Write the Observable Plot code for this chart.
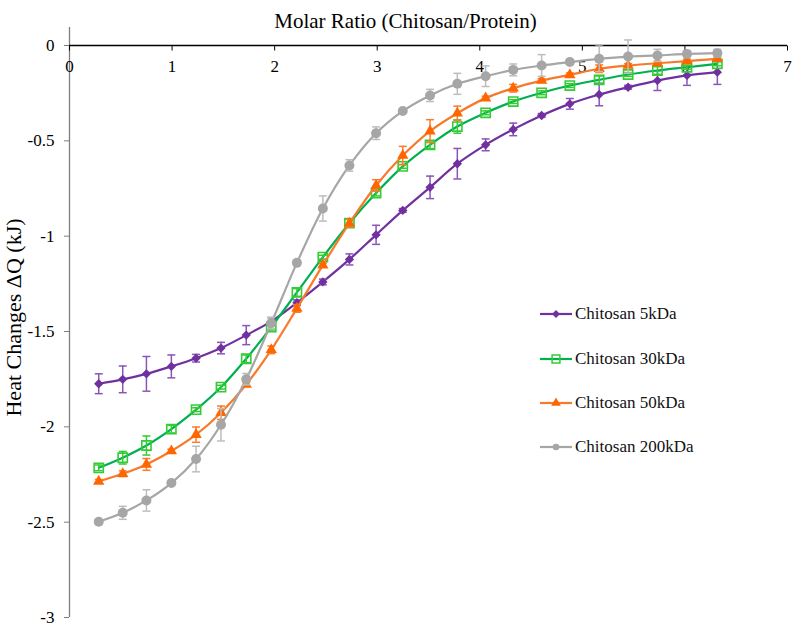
<!DOCTYPE html>
<html>
<head>
<meta charset="utf-8">
<script src="https://cdn.jsdelivr.net/npm/d3@7"></script>
<script src="https://cdn.jsdelivr.net/npm/@observablehq/plot@0.6"></script>
<style>
  body { margin: 0; background: #fff; }
  #wrap { position: relative; width: 795px; height: 627px; font-family: "Liberation Serif", "Times New Roman", serif; }
  #legend { position: absolute; left: 540px; top: 292px; }
  .row { display: flex; align-items: center; height: 44.4px; font-size: 17px; color: #111; }
  .row svg { display: block; margin-right: 3px; }
</style>
</head>
<body>
<div id="wrap"><div id="legend"></div></div>
<script>
// ---- data ----
const molarRatio = [0.285, 0.519, 0.750, 0.993, 1.234, 1.477, 1.723, 1.967, 2.217, 2.470, 2.729, 2.989,
                    3.249, 3.515, 3.781, 4.057, 4.326, 4.603, 4.878, 5.164, 5.446, 5.732, 6.020, 6.316];

const seriesNames = ["Chitosan 5kDa", "Chitosan 30kDa", "Chitosan 50kDa", "Chitosan 200kDa"];

const heat5 = [-1.774, -1.751, -1.722, -1.683, -1.640, -1.587, -1.519, -1.447, -1.349, -1.240, -1.122, -0.993,
               -0.865, -0.744, -0.620, -0.521, -0.440, -0.367, -0.306, -0.257, -0.219, -0.184, -0.157, -0.140];
const err5  = [0.052, 0.070, 0.091, 0.060, 0.020, 0.030, 0.050, 0.020, 0.015, 0.015, 0.029, 0.050,
               0.010, 0.059, 0.080, 0.031, 0.033, 0.010, 0.028, 0.059, 0.010, 0.052, 0.052, 0.064];

const heat30 = [-2.215, -2.162, -2.098, -2.012, -1.910, -1.792, -1.643, -1.477, -1.295, -1.110, -0.932, -0.774,
                -0.634, -0.521, -0.425, -0.353, -0.294, -0.248, -0.210, -0.180, -0.152, -0.131, -0.114, -0.096];
const err30  = [0.015, 0.033, 0.050, 0.020, 0.010, 0.010, 0.020, 0.015, 0.020, 0.010, 0.020, 0.015,
                0.010, 0.020, 0.035, 0.010, 0.010, 0.010, 0.010, 0.020, 0.010, 0.020, 0.010, 0.010];

const heat50 = [-2.286, -2.246, -2.197, -2.127, -2.041, -1.926, -1.778, -1.596, -1.379, -1.152, -0.932, -0.734,
                -0.577, -0.449, -0.355, -0.276, -0.224, -0.184, -0.154, -0.122, -0.105, -0.093, -0.082, -0.070];
const err50  = [0.010, 0.015, 0.031, 0.010, 0.040, 0.035, 0.010, 0.020, 0.020, 0.010, 0.020, 0.030,
                0.048, 0.060, 0.037, 0.010, 0.020, 0.010, 0.010, 0.020, 0.010, 0.010, 0.010, 0.010];

const heat200 = [-2.498, -2.451, -2.386, -2.295, -2.169, -1.989, -1.750, -1.456, -1.140, -0.855, -0.629, -0.460,
                 -0.344, -0.262, -0.201, -0.161, -0.128, -0.105, -0.087, -0.070, -0.058, -0.052, -0.044, -0.040];
const err200  = [0.005, 0.034, 0.056, 0.005, 0.067, 0.085, 0.030, 0.030, 0.005, 0.066, 0.030, 0.033,
                 0.005, 0.032, 0.055, 0.054, 0.031, 0.057, 0.010, 0.067, 0.087, 0.032, 0.015, 0.020];

const xTicks = [0, 1, 2, 3, 4, 5, 6, 7];
const yTicks = [0, -0.5, -1, -1.5, -2, -2.5, -3];
const titleText = "Molar Ratio (Chitosan/Protein)";
const yLabelText = "Heat Changes ΔQ (kJ)";

// ---- styles ----
const serif = "'Liberation Serif', 'Times New Roman', serif";
const styles = [
  {line: "#7030A0", mark: "#7030A0", err: "#8A55B8", symbol: "diamond2", r: 4.2, fill: true},
  {line: "#00B050", mark: "#33CC33", err: "#33CC33", symbol: "square", r: 5.2, fill: false},
  {line: "#F57A2A", mark: "#FF6600", err: "#FF7A2A", symbol: "triangle", r: 4.2, fill: true},
  {line: "#A6A6A6", mark: "#A6A6A6", err: "#BDBDBD", symbol: "circle", r: 5, fill: true}
];
const heats = [heat5, heat30, heat50, heat200];
const errs = [err5, err30, err50, err200];

const hline = {draw(ctx, size) { const r = Math.sqrt(size / Math.PI); ctx.moveTo(-r, 0); ctx.lineTo(r, 0); }};
const vline = {draw(ctx, size) { const r = Math.sqrt(size / Math.PI); ctx.moveTo(0, -r); ctx.lineTo(0, r); }};

const tables = heats.map((h, s) => molarRatio.map((x, i) => ({series: seriesNames[s], x, y: h[i], err: errs[s][i]})));

const marks = [
  // y axis line (gray), extends a bit above 0
  Plot.ruleX([0], {y1: -3, y2: 0.095, stroke: "#7f7f7f", strokeWidth: 1.3}),
  Plot.axisY(yTicks, {anchor: "left", tickSize: 5, tickPadding: 10, tickFormat: d => String(d), label: null,
    stroke: "#7f7f7f", fill: "#000", fontSize: 17, fontFamily: serif}),
  // x axis line at y = 0 (top), ticks pointing down, labels below
  Plot.ruleY([0], {x1: 0, x2: 7, stroke: "#000", strokeWidth: 1.3}),
  Plot.dot(xTicks, {x: d => d, y: () => 0, symbol: vline, r: 2.5, dy: 2.5, stroke: "#000", strokeWidth: 1}),
  Plot.text(xTicks, {x: d => d, y: () => 0, dy: 21, text: d => String(d), fontSize: 17, fontFamily: serif, fill: "#000"}),
  Plot.text([titleText], {frameAnchor: "top", dx: -23, dy: -32, fontSize: 21, fontFamily: serif, fill: "#000"}),
  Plot.text([yLabelText], {frameAnchor: "left", textAnchor: "middle", rotate: -90, dx: -56, dy: -14,
    fontSize: 22, fontFamily: serif, fill: "#000"})
];

tables.forEach((t, s) => {
  const st = styles[s];
  marks.push(Plot.line(t, {x: "x", y: "y", stroke: st.line, strokeWidth: 2.2, curve: "catmull-rom"}));
  marks.push(Plot.ruleX(t, {x: "x", y1: d => d.y - d.err, y2: d => d.y + d.err, stroke: st.err, strokeWidth: 1.5}));
  marks.push(Plot.dot(t, {x: "x", y: d => d.y - d.err, symbol: hline, r: 4, stroke: st.err, strokeWidth: 1.5}));
  marks.push(Plot.dot(t, {x: "x", y: d => d.y + d.err, symbol: hline, r: 4, stroke: st.err, strokeWidth: 1.5}));
  marks.push(Plot.dot(t, {x: "x", y: "y", symbol: st.symbol, r: st.r,
    fill: st.fill ? st.mark : "none", stroke: st.mark, strokeWidth: st.fill ? 0 : 1.6}));
});

const chart = Plot.plot({
  width: 795,
  height: 627,
  marginLeft: 69,
  marginRight: 8,
  marginTop: 45,
  marginBottom: 10,
  x: {domain: [0, 7], axis: null},
  y: {domain: [-3, 0], axis: null},
  style: {fontFamily: serif, background: "#fff", color: "#000"},
  marks
});
document.getElementById("wrap").prepend(chart);

// ---- legend (HTML, built from the same names/styles) ----
const legend = document.getElementById("legend");
seriesNames.forEach((name, s) => {
  const st = styles[s];
  const row = document.createElement("div");
  row.className = "row";
  const sym = {diamond2: d3.symbolDiamond2, square: d3.symbolSquare, triangle: d3.symbolTriangle, circle: d3.symbolCircle}[st.symbol];
  const rr = s === 3 ? 3.3 : st.r * 0.85;
  const path = d3.symbol(sym, rr * rr * Math.PI)();
  row.innerHTML = `<svg width="32" height="14" viewBox="0 0 32 14">
    <line x1="0" x2="32" y1="7" y2="7" stroke="${st.line}" stroke-width="2.2"/>
    <path transform="translate(16,7)" d="${path}" fill="${st.fill ? st.mark : "none"}" stroke="${st.mark}" stroke-width="${st.fill ? 0 : 1.5}"/>
  </svg><span>${name}</span>`;
  legend.appendChild(row);
});
</script>
</body>
</html>
